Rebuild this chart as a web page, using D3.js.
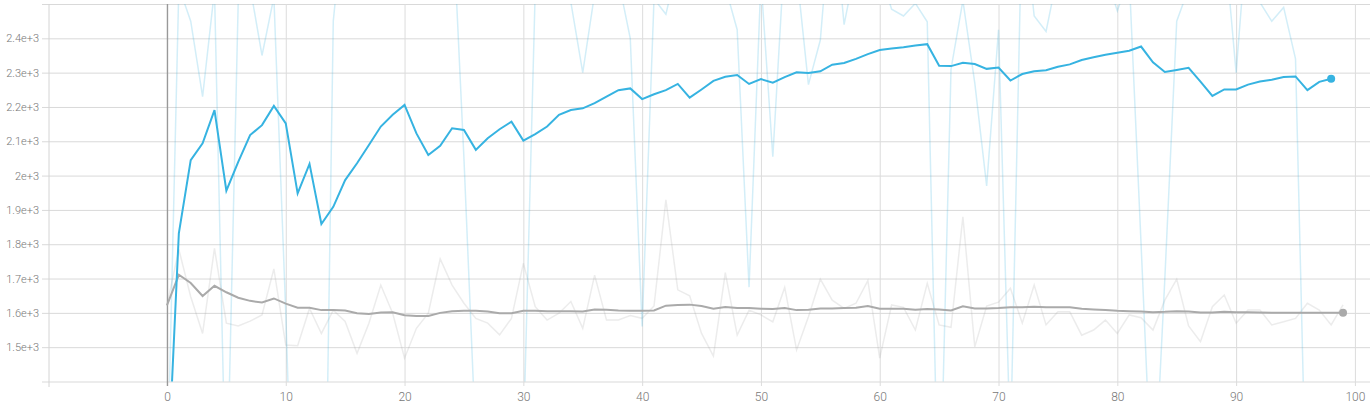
<!DOCTYPE html>
<html>
<head>
<meta charset="utf-8">
<script src="https://cdn.jsdelivr.net/npm/d3@7"></script>
<style>
  body { margin: 0; background: #fff; }
  .tick text { font-family: Roboto, "Noto Sans", sans-serif; font-weight: 300; fill: #777; }
</style>
</head>
<body>
<div class="chart-wrapper"></div>
<script>
// tick values + labels
const yGridValues = [1400, 1500, 1600, 1700, 1800, 1900, 2000, 2100, 2200, 2300, 2400, 2500]
const yTickLabels = ['', '1.5e+3', '1.6e+3', '1.7e+3', '1.8e+3', '1.9e+3', '2e+3', '2.1e+3', '2.2e+3', '2.3e+3', '2.4e+3', '']
const xTickValues = [0, 10, 20, 30, 40, 50, 60, 70, 80, 90, 100]
const xTickLabels = ['0', '10', '20', '30', '40', '50', '60', '70', '80', '90', '100']

// blue run, one value per step (0..98)
const blueSmoothed = [1080, 1832, 2045, 2094, 2191, 1956, 2040, 2118, 2147, 2203,
  2152, 1948, 2034, 1859, 1909, 1987, 2036, 2089, 2143, 2177,
  2206, 2123, 2060, 2087, 2138, 2133, 2075, 2109, 2135, 2157,
  2102, 2121, 2143, 2177, 2191, 2196, 2211, 2230, 2249, 2254,
  2223, 2237, 2249, 2267, 2227, 2251, 2276, 2288, 2293, 2267,
  2281, 2271, 2287, 2301, 2299, 2304, 2323, 2328, 2340, 2354,
  2366, 2370, 2374, 2379, 2383, 2320, 2319, 2329, 2325, 2311,
  2315, 2277, 2296, 2304, 2307, 2317, 2324, 2337, 2345, 2352,
  2358, 2364, 2376, 2330, 2302, 2308, 2314, 2274, 2232, 2251,
  2251, 2265, 2274, 2279, 2287, 2289, 2249, 2273, 2282]

const blueRaw = [1080, 2550, 2450, 2230, 2540, 1000, 2510, 2550, 2350, 2520,
  1600, 500, 800, 200, 2450, 2800, 2700, 2650, 2750, 2600,
  2700, 2650, 2600, 2700, 2790, 2050, 1220, 1100, 1000, 1150,
  1220, 2540, 2650, 2600, 2505, 2300, 2530, 2620, 2570, 2400,
  1560, 2515, 2470, 2620, 2700, 2650, 2600, 2550, 2425, 1675,
  2570, 2055, 2655, 2595, 2265, 2395, 2815, 2440, 2615, 2650,
  2595, 2485, 2465, 2502, 2448, 920, 2310, 2510, 2270, 1970,
  2425, 1200, 2800, 2465, 2420, 2590, 2650, 2700, 2600, 2590,
  2480, 2580, 1800, 1000, 1700, 2450, 2545, 2650, 2700, 2690,
  2300, 2740, 2505, 2450, 2490, 2340, 890, 1000, 1050]

// grey run, one value per step (0..99)
const greySmoothed = [1622, 1711, 1687, 1649, 1679, 1660, 1644, 1635, 1630, 1642,
  1627, 1615, 1615, 1608, 1608, 1607, 1599, 1597, 1601, 1602,
  1593, 1591, 1591, 1600, 1605, 1606, 1606, 1604, 1599, 1599,
  1606, 1606, 1605, 1605, 1605, 1604, 1610, 1609, 1607, 1606,
  1606, 1607, 1621, 1623, 1624, 1620, 1612, 1617, 1614, 1614,
  1612, 1611, 1614, 1608, 1609, 1613, 1613, 1614, 1615, 1620,
  1612, 1612, 1612, 1609, 1611, 1610, 1607, 1619, 1613, 1613,
  1614, 1616, 1616, 1618, 1616, 1616, 1616, 1612, 1610, 1608,
  1606, 1605, 1604, 1602, 1603, 1605, 1604, 1601, 1601, 1603,
  1602, 1602, 1601, 1600, 1600, 1600, 1600, 1600, 1600, 1600]

const greyRaw = [1622, 1785, 1647, 1540, 1788, 1570, 1562, 1576, 1594, 1728,
  1506, 1504, 1613, 1540, 1608, 1575, 1482, 1570, 1681, 1599,
  1468, 1555, 1599, 1757, 1681, 1628, 1584, 1570, 1536, 1584,
  1744, 1618, 1579, 1599, 1633, 1555, 1710, 1579, 1579, 1592,
  1584, 1620, 1929, 1667, 1650, 1540, 1474, 1717, 1535, 1608,
  1594, 1574, 1674, 1492, 1589, 1698, 1637, 1613, 1628, 1694,
  1468, 1623, 1616, 1550, 1686, 1565, 1558, 1880, 1501, 1620,
  1631, 1672, 1570, 1681, 1565, 1603, 1603, 1535, 1550, 1579,
  1540, 1594, 1586, 1550, 1637, 1698, 1562, 1516, 1618, 1652,
  1570, 1608, 1608, 1565, 1574, 1584, 1628, 1608, 1565, 1623]

const blueColor = '#36b3e1'
const greyColor = '#aaaaaa'

let width = 1370
let height = 407

let plotLeft = 49, plotRight = 1370, plotTop = 4, plotBottom = 381.5

let svg = d3.select('.chart-wrapper').append('svg')
  .attr('width', width)
  .attr('height', height)
  .style('display', 'block')

let xScale = d3.scaleLinear()
  .domain([-9.93, 101.27])
  .range([plotLeft, plotRight])

let yScale = d3.scaleLinear()
  .domain([1400, 2500])
  .range([plotBottom, plotTop])

svg.append('clipPath')
  .attr('id', 'plot-clip')
  .append('rect')
  .attr('x', plotLeft)
  .attr('y', plotTop)
  .attr('width', plotRight - plotLeft)
  .attr('height', plotBottom - plotTop)

let axis = svg.append('g')

// horizontal grid + y labels
let yaxis = axis.append('g')
  .attr('transform', 'translate(42,0)')
  .call(
    d3.axisLeft(yScale)
      .tickValues(yGridValues)
      .tickSize(-(plotRight - 42))
      .tickPadding(3)
      .tickFormat((d, i) => yTickLabels[i])
  )
yaxis.select('.domain').remove()
yaxis.selectAll('line').attr('stroke', '#d9d9d9')
yaxis.selectAll('text').style('font-size', '11px')

// vertical grid + x labels
let xaxis = axis.append('g')
  .attr('transform', 'translate(0,' + 386 + ')')
  .call(
    d3.axisBottom(xScale)
      .tickValues(xTickValues)
      .tickSize(-(386 - plotTop))
      .tickPadding(6.5)
      .tickFormat((d, i) => xTickLabels[i])
  )
xaxis.select('.domain').remove()
xaxis.selectAll('line').attr('stroke', d => d === 0 ? '#999' : '#dcdcdc')
  .attr('stroke-width', d => d === 0 ? 1.4 : 1)
xaxis.selectAll('text').style('font-size', '12px')

// left border of the plot
axis.append('line')
  .attr('x1', plotLeft).attr('x2', plotLeft)
  .attr('y1', plotTop).attr('y2', 387)
  .attr('stroke', '#d4d4d4')

const line = d3.line()
  .x((d, i) => xScale(i))
  .y(d => yScale(d))

let lines = svg.append('g').attr('clip-path', 'url(#plot-clip)')

lines.append('path')
  .datum(greyRaw)
  .attr('d', line)
  .attr('fill', 'none')
  .attr('stroke', greyColor)
  .attr('stroke-opacity', 0.22)
  .attr('stroke-width', 1.5)

lines.append('path')
  .datum(blueRaw)
  .attr('d', line)
  .attr('fill', 'none')
  .attr('stroke', blueColor)
  .attr('stroke-opacity', 0.22)
  .attr('stroke-width', 1.5)

lines.append('path')
  .datum(greySmoothed)
  .attr('d', line)
  .attr('fill', 'none')
  .attr('stroke', greyColor)
  .attr('stroke-width', 2)

lines.append('path')
  .datum(blueSmoothed)
  .attr('d', line)
  .attr('fill', 'none')
  .attr('stroke', blueColor)
  .attr('stroke-width', 2)

// end dots
let circles = svg.append('g')

circles.append('circle')
  .attr('cx', xScale(greySmoothed.length - 1))
  .attr('cy', yScale(greySmoothed[greySmoothed.length - 1]))
  .attr('r', 4)
  .attr('fill', greyColor)

circles.append('circle')
  .attr('cx', xScale(blueSmoothed.length - 1))
  .attr('cy', yScale(blueSmoothed[blueSmoothed.length - 1]))
  .attr('r', 4)
  .attr('fill', blueColor)
</script>
</body>
</html>
